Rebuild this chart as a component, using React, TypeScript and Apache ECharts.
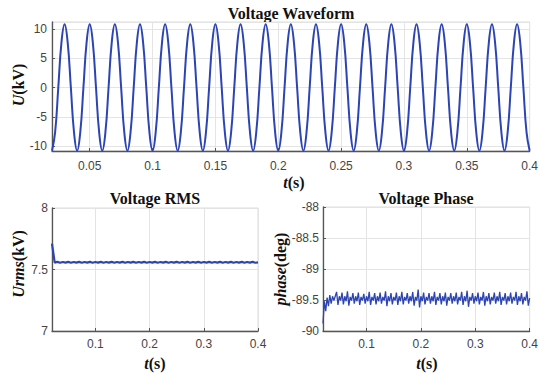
import React, { useEffect, useRef } from "react";
import * as echarts from "echarts";

// Time axis settings (s)
const T_START = 0.02;
const T_END = 0.4;
const WAVE_STEP = 0.0025;
const RMS_STEP = 0.005;
const PHASE_STEP = 0.0025;

// Voltage waveform U (kV), sampled every 2.5 ms from 0.02 s (one 20 ms cycle per row)
const WAVE_U = [
  -10.8, -7.64, 0, 7.64, 10.8, 7.64, 0, -7.64,
  -10.8, -7.64, 0, 7.64, 10.8, 7.64, 0, -7.64,
  -10.8, -7.64, 0, 7.64, 10.8, 7.64, 0, -7.64,
  -10.8, -7.64, 0, 7.64, 10.8, 7.64, 0, -7.64,
  -10.8, -7.64, 0, 7.64, 10.8, 7.64, 0, -7.64,
  -10.8, -7.64, 0, 7.64, 10.8, 7.64, 0, -7.64,
  -10.8, -7.64, 0, 7.64, 10.8, 7.64, 0, -7.64,
  -10.8, -7.64, 0, 7.64, 10.8, 7.64, 0, -7.64,
  -10.8, -7.64, 0, 7.64, 10.8, 7.64, 0, -7.64,
  -10.8, -7.64, 0, 7.64, 10.8, 7.64, 0, -7.64,
  -10.8, -7.64, 0, 7.64, 10.8, 7.64, 0, -7.64,
  -10.8, -7.64, 0, 7.64, 10.8, 7.64, 0, -7.64,
  -10.8, -7.64, 0, 7.64, 10.8, 7.64, 0, -7.64,
  -10.8, -7.64, 0, 7.64, 10.8, 7.64, 0, -7.64,
  -10.8, -7.64, 0, 7.64, 10.8, 7.64, 0, -7.64,
  -10.8, -7.64, 0, 7.64, 10.8, 7.64, 0, -7.64,
  -10.8, -7.64, 0, 7.64, 10.8, 7.64, 0, -7.64,
  -10.8, -7.64, 0, 7.64, 10.8, 7.64, 0, -7.64,
  -10.8, -7.64, 0, 7.64, 10.8, 7.64, 0, -7.64,
  -10.8,
];

// Voltage RMS Urms (kV), sampled every 5 ms from 0.02 s
const RMS_KV = [
  7.71, 7.556, 7.562, 7.555, 7.561, 7.556, 7.562, 7.555, 7.561, 7.556,
  7.562, 7.555, 7.561, 7.556, 7.562, 7.555, 7.561, 7.556, 7.562, 7.555,
  7.561, 7.556, 7.562, 7.555, 7.561, 7.556, 7.562, 7.555, 7.561, 7.556,
  7.562, 7.555, 7.561, 7.556, 7.562, 7.555, 7.561, 7.556, 7.562, 7.555,
  7.561, 7.556, 7.562, 7.555, 7.561, 7.556, 7.562, 7.555, 7.561, 7.556,
  7.562, 7.555, 7.561, 7.556, 7.562, 7.555, 7.561, 7.556, 7.562, 7.555,
  7.561, 7.556, 7.562, 7.555, 7.561, 7.556, 7.562, 7.555, 7.561, 7.556,
  7.562, 7.555, 7.561, 7.556, 7.562, 7.555, 7.558,
];

// Voltage phase (deg), sampled every 2.5 ms from 0.02 s (10 ms per row)
const PHASE_DEG = [
  -89.88, -89.52, -89.68, -89.46,
  -89.6, -89.42, -89.56, -89.44,
  -89.51, -89.44, -89.37, -89.58,
  -89.44, -89.51, -89.38, -89.57,
  -89.44, -89.52, -89.36, -89.59,
  -89.45, -89.51, -89.39, -89.56,
  -89.44, -89.52, -89.38, -89.58,
  -89.45, -89.51, -89.4, -89.56,
  -89.44, -89.52, -89.37, -89.58,
  -89.45, -89.51, -89.39, -89.57,
  -89.44, -89.52, -89.38, -89.56,
  -89.45, -89.51, -89.36, -89.6,
  -89.44, -89.52, -89.39, -89.57,
  -89.45, -89.51, -89.38, -89.58,
  -89.44, -89.52, -89.37, -89.57,
  -89.45, -89.51, -89.39, -89.56,
  -89.44, -89.52, -89.37, -89.59,
  -89.45, -89.51, -89.33, -89.62,
  -89.44, -89.52, -89.38, -89.57,
  -89.45, -89.51, -89.39, -89.56,
  -89.44, -89.52, -89.37, -89.58,
  -89.45, -89.51, -89.39, -89.57,
  -89.44, -89.52, -89.38, -89.59,
  -89.45, -89.51, -89.39, -89.56,
  -89.44, -89.52, -89.38, -89.57,
  -89.45, -89.51, -89.37, -89.58,
  -89.44, -89.52, -89.35, -89.61,
  -89.45, -89.51, -89.39, -89.56,
  -89.44, -89.52, -89.38, -89.57,
  -89.45, -89.51, -89.37, -89.59,
  -89.44, -89.52, -89.39, -89.57,
  -89.45, -89.51, -89.38, -89.56,
  -89.44, -89.52, -89.37, -89.58,
  -89.45, -89.51, -89.39, -89.57,
  -89.44, -89.52, -89.38, -89.56,
  -89.45, -89.51, -89.37, -89.58,
  -89.44, -89.52, -89.39, -89.57,
  -89.45, -89.51, -89.36, -89.59,
  -89.47,
];

const TITLES = ["Voltage Waveform", "Voltage RMS", "Voltage Phase"];

const toPairs = (vals: number[], step: number) =>
  vals.map((v, i) => [+(T_START + i * step).toFixed(5), v]);

const BLUE = "#2c44b4";
const SANS = "'Liberation Sans', Arial, Helvetica, sans-serif";
const SERIF = "'Liberation Serif', 'Times New Roman', serif";

const baseAxis = (gridIndex: number) => ({
  gridIndex,
  axisLine: { show: true, onZero: false, lineStyle: { color: "#555", width: 1.3 } },
  axisTick: { show: true, inside: true, length: 3, lineStyle: { color: "#555" } },
  axisLabel: { color: "#444", fontSize: 12, fontFamily: SANS },
  splitLine: { show: true, lineStyle: { color: "#e4e4e4", width: 1 } },
});

export default function App() {
  const ref = useRef<HTMLDivElement>(null);
  useEffect(() => {
    if (!ref.current) return;
    const chart = echarts.init(ref.current, undefined, { renderer: "svg" });
    const titleStyle = (text: string) => ({
      text,
      font: `bold 16px ${SERIF}`,
      fill: "#111",
      align: "center",
      verticalAlign: "middle",
    });
    const richName = (it: string, rest: string) => ({
      text: `{i|${it}}{n|${rest}}`,
      align: "center",
      verticalAlign: "middle",
      rich: {
        i: { fontFamily: SERIF, fontSize: 16, fontWeight: "bold", fontStyle: "italic", fill: "#111", color: "#111" },
        n: { fontFamily: SERIF, fontSize: 16, fontWeight: "bold", fill: "#111", color: "#111" },
      },
    });
    chart.setOption({
      animation: false,
      backgroundColor: "#fff",
      grid: [
        { left: 52, top: 22, width: 478, height: 129, show: true, borderColor: "#dcdcdc", borderWidth: 1 },
        { left: 52, top: 208, width: 206, height: 123, show: true, borderColor: "#dcdcdc", borderWidth: 1 },
        { left: 323, top: 207, width: 207, height: 124, show: true, borderColor: "#dcdcdc", borderWidth: 1 },
      ],
      xAxis: [
        {
          ...baseAxis(0), type: "value", min: T_START, max: T_END, splitNumber: 8,
          axisLabel: { ...baseAxis(0).axisLabel, margin: 9, showMinLabel: false },
        },
        {
          ...baseAxis(1), type: "value", min: T_START, max: T_END, splitNumber: 4,
          axisLabel: { ...baseAxis(1).axisLabel, margin: 7, showMinLabel: false },
        },
        {
          ...baseAxis(2), type: "value", min: T_START, max: T_END, splitNumber: 4,
          axisLabel: { ...baseAxis(2).axisLabel, margin: 7, showMinLabel: false },
        },
      ],
      yAxis: [
        {
          ...baseAxis(0), type: "value", min: -10.85, max: 11.2, splitNumber: 4,
          axisLabel: { ...baseAxis(0).axisLabel, margin: 5, showMinLabel: false, showMaxLabel: false },
        },
        {
          ...baseAxis(1), type: "value", min: 7, max: 8, interval: 0.5,
          axisLabel: { ...baseAxis(1).axisLabel, margin: 4 },
        },
        {
          ...baseAxis(2), type: "value", min: -90, max: -88, interval: 0.5,
          axisLabel: { ...baseAxis(2).axisLabel, margin: 4 },
        },
      ],
      series: [
        {
          type: "line", xAxisIndex: 0, yAxisIndex: 0, data: toPairs(WAVE_U, WAVE_STEP),
          showSymbol: false, smooth: 0.45, lineStyle: { color: BLUE, width: 2 },
        },
        {
          type: "line", xAxisIndex: 1, yAxisIndex: 1, data: toPairs(RMS_KV, RMS_STEP),
          showSymbol: false, lineStyle: { color: BLUE, width: 2.2 },
        },
        {
          type: "line", xAxisIndex: 2, yAxisIndex: 2, data: toPairs(PHASE_DEG, PHASE_STEP),
          showSymbol: false, lineStyle: { color: BLUE, width: 1.3 },
        },
      ],
      graphic: [
        { type: "text", x: 291, y: 13, style: titleStyle(TITLES[0]) },
        { type: "text", x: 155, y: 198, style: titleStyle(TITLES[1]) },
        { type: "text", x: 426, y: 198, style: titleStyle(TITLES[2]) },
        { type: "text", x: 294, y: 182, style: richName("t", "(s)") },
        { type: "text", x: 155, y: 363, style: richName("t", "(s)") },
        { type: "text", x: 427, y: 363, style: richName("t", "(s)") },
        { type: "text", x: 18, y: 85, rotation: Math.PI / 2, style: richName("U", "(kV)") },
        { type: "text", x: 18, y: 264, rotation: Math.PI / 2, style: richName("Urms", "(kV)") },
        { type: "text", x: 280, y: 269, rotation: Math.PI / 2, style: richName("phase", "(deg)") },
      ],
    });
    return () => chart.dispose();
  }, []);
  return (
    <div
      ref={ref}
      style={{ position: "fixed", left: 0, top: 0, width: 541, height: 374, background: "#fff" }}
    />
  );
}
